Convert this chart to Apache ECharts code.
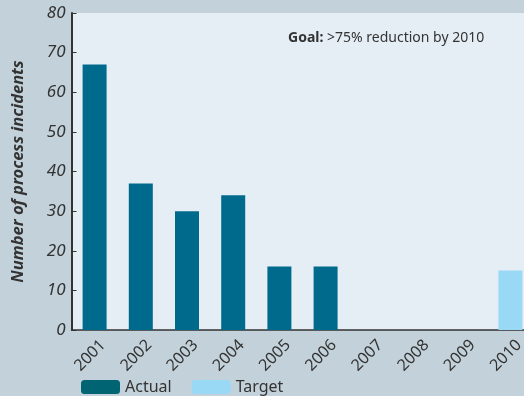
<!DOCTYPE html>
<html>
<head>
<meta charset="utf-8">
<script src="https://cdn.jsdelivr.net/npm/echarts@6/dist/echarts.min.js"></script>
<style>
  html, body { margin: 0; padding: 0; background: #c3d2da; }
  #chart { width: 524px; height: 396px; }
</style>
</head>
<body>
<div id="chart"></div>
<script>
// Process incidents per year, with the 2010 target
const years = ['2001', '2002', '2003', '2004', '2005', '2006', '2007', '2008', '2009', '2010'];
const actual = [67, 37, 30, 34, 16, 16, null, null, null, null];
const target = [null, null, null, null, null, null, null, null, null, 15];
const yTicks = [0, 10, 20, 30, 40, 50, 60, 70, 80];

const FONT = '"Noto Sans", "Open Sans", sans-serif';
const chart = echarts.init(document.getElementById('chart'));

chart.setOption({
  backgroundColor: '#c3d2da',
  animation: false,
  textStyle: { fontFamily: FONT },
  grid: {
    left: 71.5, top: 13, width: 462, height: 317,
    outerBoundsMode: 'none',
    containLabel: false,
    show: true, backgroundColor: '#e6eef5', borderWidth: 0
  },
  legend: {
    left: 76, top: 374,
    itemWidth: 39, itemHeight: 14, itemGap: 20,
    textStyle: { fontSize: 16, color: '#333', fontFamily: FONT },
    data: [
      { name: 'Actual', itemStyle: { color: '#006473' } },
      { name: 'Target', itemStyle: { color: '#9ad9f5' } }
    ]
  },
  xAxis: {
    type: 'category',
    data: years,
    axisLine: { lineStyle: { color: '#333', width: 1.5 } },
    axisTick: { inside: true, length: 6, lineStyle: { color: '#333' } },
    axisLabel: {
      rotate: 45, fontSize: 16, color: '#333', margin: 21,
      padding: [0, -12, 0, 0],
      fontFamily: FONT
    }
  },
  yAxis: {
    type: 'value',
    min: yTicks[0], max: yTicks[yTicks.length - 1], interval: 10,
    name: 'Number of process incidents',
    nameLocation: 'middle', nameGap: 45,
    nameTextStyle: { fontSize: 16.5, fontWeight: 'bold', fontStyle: 'italic', color: '#333', fontFamily: FONT },
    splitLine: { show: false },
    axisLine: { show: true, lineStyle: { color: '#333', width: 2 } },
    axisTick: { show: true, inside: true, length: 5, lineStyle: { color: '#333' } },
    axisLabel: { fontSize: 17, fontStyle: 'italic', color: '#333', margin: 6, fontFamily: FONT }
  },
  series: [
    {
      name: 'Actual', type: 'bar', data: actual,
      barWidth: 24, barGap: '-100%',
      itemStyle: { color: '#006a8c' }
    },
    {
      name: 'Target', type: 'bar', data: target,
      barWidth: 24,
      itemStyle: { color: '#9ad9f5' }
    }
  ],
  graphic: [
    {
      type: 'text', left: 288, top: 31,
      style: {
        text: '{b|Goal:} >75% reduction by 2010',
        fontSize: 14, fill: '#333', fontFamily: FONT,
        rich: { b: { fontWeight: 'bold', fontSize: 14, fill: '#333', fontFamily: FONT } }
      }
    }
  ]
});
</script>
</body>
</html>
